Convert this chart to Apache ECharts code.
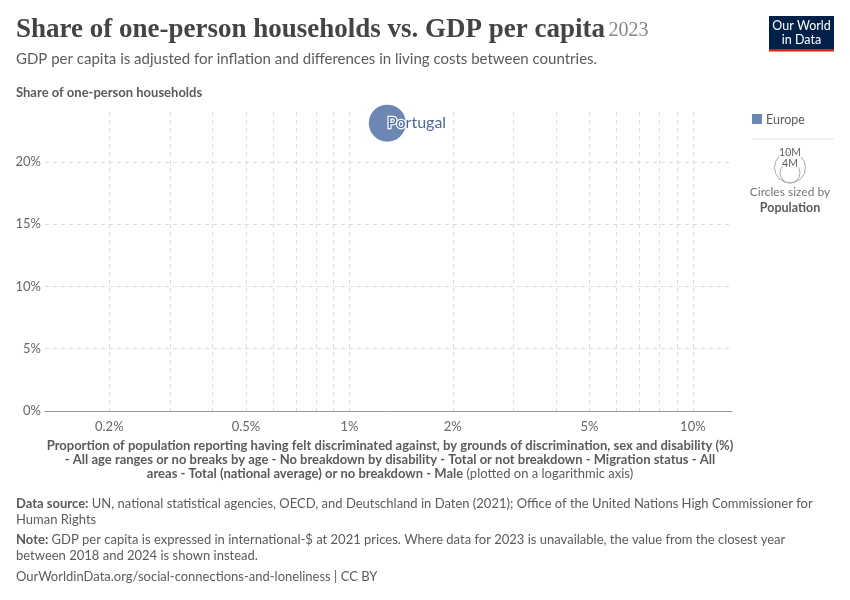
<!DOCTYPE html>
<html>
<head>
<meta charset="utf-8">
<script src="https://cdn.jsdelivr.net/npm/echarts@6/dist/echarts.min.js"></script>
<style>
  html, body { margin: 0; padding: 0; background: #fff; }
  #chart { width: 850px; height: 600px; }
</style>
</head>
<body>
<div id="chart"></div>
<script>
// data
var countries = ['Portugal'];
var discriminated = [1.29];     // % felt discriminated (x, log)
var onePerson = [23.1];         // % one-person households (y)
var population = [10.4];        // millions

var xGridValues = [0.2, 0.3, 0.4, 0.5, 0.6, 0.7, 0.8, 0.9, 1, 2, 3, 4, 5, 6, 7, 8, 9, 10];
var xLabelValues = [0.2, 0.5, 1, 2, 5, 10];
var yTickValues = [0, 5, 10, 15, 20];

var europeColor = '#6d87b4';
var textGray = '#5b5b5b';

var points = [];
for (var i = 0; i < countries.length; i++) {
    points.push({ name: countries[i], value: [discriminated[i], onePerson[i], population[i]] });
}

var option = {
    backgroundColor: '#fff',
    animation: false,
    textStyle: { fontFamily: 'Lato' },
    grid: { left: 45, right: 118, top: 112, bottom: 189, containLabel: false },
    xAxis: {
        type: 'log',
        logBase: 10,
        min: 0.13,
        max: 13,
        axisLine: { show: true, lineStyle: { color: '#999', width: 1 } },
        axisTick: { show: false, customValues: xGridValues },
        axisLabel: {
            customValues: xLabelValues,
            color: '#666', fontSize: 13, margin: 9,
            formatter: function (v) { return v + '%'; }
        },
        splitLine: { show: true, lineStyle: { color: '#ddd', type: [4, 4] } }
    },
    yAxis: {
        type: 'value',
        min: 0,
        max: 24,
        axisLine: { show: false },
        axisTick: { show: false, customValues: yTickValues },
        axisLabel: {
            customValues: yTickValues,
            color: '#666', fontSize: 13, margin: 4,
            formatter: function (v) { return v + '%'; }
        },
        splitLine: { show: true, lineStyle: { color: '#ddd', type: [4, 4] } }
    },
    series: [{
        type: 'scatter',
        data: points,
        symbolSize: function (val) { return 11.5 * Math.sqrt(val[2]); },
        itemStyle: { color: europeColor, opacity: 1 },
        label: {
            show: true,
            formatter: '{b}',
            position: ['50%', '50%'],
            align: 'left',
            verticalAlign: 'middle',
            color: '#4c6a9c',
            fontSize: 16,
            textBorderColor: '#fff',
            textBorderWidth: 2.5
        }
    }],
    graphic: [
        // title block
        { type: 'text', left: 16, top: 17, style: {
            text: '{t|Share of one-person households vs. GDP per capita} {y|2023}',
            rich: {
                t: { fontFamily: 'Liberation Serif', fontSize: 27, fontWeight: 'bold', fill: '#444' },
                y: { fontFamily: 'Liberation Serif', fontSize: 20, fill: '#858585' }
            }
        } },
        { type: 'text', left: 16, top: 52, style: {
            text: 'GDP per capita is adjusted for inflation and differences in living costs between countries.',
            fontFamily: 'Lato', fontSize: 15, fill: textGray
        } },
        { type: 'text', left: 16, top: 86, style: {
            text: 'Share of one-person households',
            fontFamily: 'Lato', fontSize: 13, fontWeight: 'bold', fill: textGray
        } },
        // logo
        { type: 'rect', shape: { x: 769, y: 16, width: 65, height: 34 }, style: { fill: '#002147' } },
        { type: 'rect', shape: { x: 769, y: 49, width: 65, height: 2.5 }, style: { fill: '#ce261e' } },
        { type: 'text', x: 801.5, y: 19, style: {
            text: 'Our World\nin Data', align: 'center', fontFamily: 'Lato', fontSize: 12.5,
            lineHeight: 14, fill: '#fff'
        } },
        // colour legend
        { type: 'rect', shape: { x: 752, y: 114, width: 10, height: 10 }, style: { fill: europeColor } },
        { type: 'text', x: 766, y: 113, style: { text: 'Europe', fontFamily: 'Lato', fontSize: 12.5, fill: textGray } },
        { type: 'line', shape: { x1: 752, y1: 139, x2: 834, y2: 139 }, style: { stroke: '#e4e4e4', lineWidth: 1 } },
        // size legend
        { type: 'circle', shape: { cx: 790, cy: 167.5, r: 15.5 }, style: { fill: 'none', stroke: '#aaa', lineWidth: 1 } },
        { type: 'circle', shape: { cx: 790, cy: 173, r: 10 }, style: { fill: 'none', stroke: '#aaa', lineWidth: 1 } },
        { type: 'text', x: 790, y: 147, style: { text: '10M', align: 'center', fontFamily: 'Lato', fontSize: 10.5, fill: textGray, stroke: '#fff', lineWidth: 2 } },
        { type: 'text', x: 790, y: 158, style: { text: '4M', align: 'center', fontFamily: 'Lato', fontSize: 10.5, fill: textGray, stroke: '#fff', lineWidth: 2 } },
        { type: 'text', x: 790, y: 186, style: { text: 'Circles sized by', align: 'center', fontFamily: 'Lato', fontSize: 12, fill: '#777' } },
        { type: 'text', x: 790, y: 201, style: { text: 'Population', align: 'center', fontFamily: 'Lato', fontSize: 12.5, fontWeight: 'bold', fill: textGray } },
        // x axis name
        { type: 'text', x: 390, y: 439, style: {
            text: '{b|Proportion of population reporting having felt discriminated against, by grounds of discrimination, sex and disability (%)}\n' +
                  '{b|- All age ranges or no breaks by age - No breakdown by disability - Total or not breakdown - Migration status - All}\n' +
                  '{b|areas - Total (national average) or no breakdown - Male} {n|(plotted on a logarithmic axis)}',
            align: 'center',
            rich: {
                b: { fontFamily: 'Lato', fontSize: 13, fontWeight: 'bold', fill: textGray, lineHeight: 14 },
                n: { fontFamily: 'Lato', fontSize: 13, fill: textGray, lineHeight: 14 }
            }
        } },
        // footer
        { type: 'text', left: 16, top: 497, style: {
            text: '{b|Data source:} {n|UN, national statistical agencies, OECD, and Deutschland in Daten (2021); Office of the United Nations High Commissioner for}\n{n|Human Rights}',
            rich: {
                b: { fontFamily: 'Lato', fontSize: 13, fontWeight: 'bold', fill: textGray, lineHeight: 16 },
                n: { fontFamily: 'Lato', fontSize: 13, fill: textGray, lineHeight: 16 }
            }
        } },
        { type: 'text', left: 16, top: 533, style: {
            text: '{b|Note:} {n|GDP per capita is expressed in international-$ at 2021 prices. Where data for 2023 is unavailable, the value from the closest year}\n{n|between 2018 and 2024 is shown instead.}',
            rich: {
                b: { fontFamily: 'Lato', fontSize: 13, fontWeight: 'bold', fill: textGray, lineHeight: 16 },
                n: { fontFamily: 'Lato', fontSize: 13, fill: textGray, lineHeight: 16 }
            }
        } },
        { type: 'text', left: 16, top: 570, style: {
            text: 'OurWorldinData.org/social-connections-and-loneliness | CC BY',
            fontFamily: 'Lato', fontSize: 13, fill: textGray
        } }
    ]
};

var myChart = echarts.init(document.getElementById('chart'));
myChart.setOption(option);
</script>
</body>
</html>
